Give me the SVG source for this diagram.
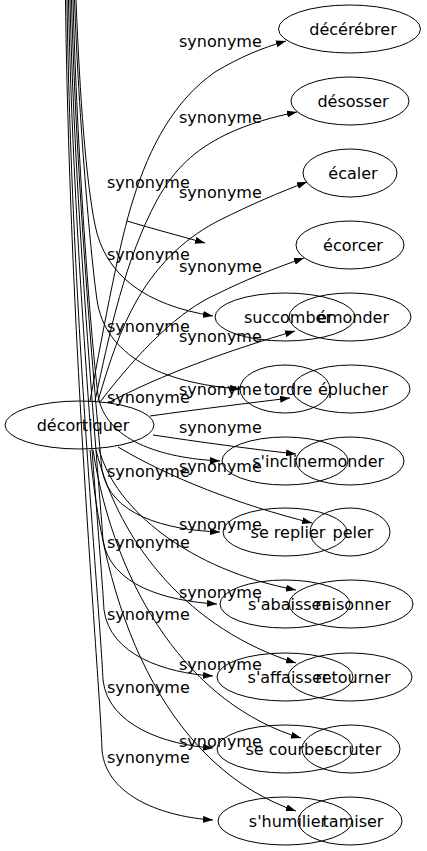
<svg xmlns="http://www.w3.org/2000/svg" width="427" height="851" viewBox="0 0 427 851">
<style>
.n ellipse{fill:none;stroke:#000;stroke-width:1}
text{font-family:"DejaVu Sans",sans-serif;font-size:16px;fill:#000}
.n text{text-anchor:middle}
.e path{fill:none;stroke:#000;stroke-width:1;marker-end:url(#a)}
</style>
<defs>
<marker id="a" markerWidth="10" markerHeight="7" refX="10" refY="3.5" orient="auto" markerUnits="userSpaceOnUse"><path d="M0,0 L10,3.5 L0,7z" fill="#000"/></marker>
</defs>
<rect width="427" height="851" fill="#fff"/>
<g id="edges" class="e">
<path d="M90,401 C105,320 120,240 133,200 C150,145 175,100 215,72 C240,57 262,48 286,41"/>
<path d="M95,401 C110,330 125,260 157,200 C175,168 195,150 225,135 C250,123 273,117 297,112"/>
<path d="M98,401 C110,360 120,330 137,300 C160,260 190,235 220,220 C250,205 280,192 307,182"/>
<path d="M100,402 C140,350 180,310 217,294 C245,280 275,268 304,258"/>
<path d="M108,403 C160,375 230,350 295,331"/>
<path d="M150,416 C200,409 250,403 290,398"/>
<path d="M153,435 C200,442 250,449 296,454"/>
<path d="M118,447 C170,478 240,505 312,523"/>
<path d="M99,449 C115,510 190,570 296,590"/>
<path d="M96,450 C120,545 190,630 296,663"/>
<path d="M93,450 C115,590 190,705 301,738"/>
<path d="M90,450 C105,630 175,770 296,811"/>
<path d="M127,221 C150,228 180,236 205,243"/>
<path d="M76,0 C80,100 86,180 95,225 C105,275 145,305 213,316"/>
<path d="M74.5,0 C79,120 90,250 97,300 C105,355 160,383 240,389"/>
<path d="M73,0 C77,150 90,330 98,395 C105,440 160,458 220,461"/>
<path d="M71.5,0 C76,180 95,400 102,470 C110,515 165,530 220,532"/>
<path d="M70,0 C74,200 98,470 103,540 C110,585 165,601 217,604"/>
<path d="M68.5,0 C73,250 100,540 104,610 C110,655 165,673 213,676"/>
<path d="M67,0 C71,300 100,610 103,680 C108,725 165,745 213,748"/>
<path d="M65.5,0 C70,350 100,680 102,750 C106,797 165,817 213,820"/>
</g>
<g id="labels">
<text x="179" y="47">synonyme</text>
<text x="179" y="123">synonyme</text>
<text x="179" y="198">synonyme</text>
<text x="179" y="272">synonyme</text>
<text x="179" y="342">synonyme</text>
<text x="179" y="395">synonyme</text>
<text x="179" y="433">synonyme</text>
<text x="179" y="472">synonyme</text>
<text x="179" y="530">synonyme</text>
<text x="179" y="598">synonyme</text>
<text x="179" y="670">synonyme</text>
<text x="179" y="747">synonyme</text>
<text x="107" y="188">synonyme</text>
<text x="107" y="260">synonyme</text>
<text x="107" y="332">synonyme</text>
<text x="107" y="403">synonyme</text>
<text x="107" y="477">synonyme</text>
<text x="107" y="548">synonyme</text>
<text x="107" y="620">synonyme</text>
<text x="107" y="693">synonyme</text>
<text x="107" y="763">synonyme</text>
</g>
<g id="decortiquer" class="n"><ellipse cx="79.5" cy="425" rx="74.5" ry="24"/><text x="83" y="431">décortiquer</text></g>
<g id="decerebrer" class="n"><ellipse cx="349.5" cy="29" rx="71" ry="24"/><text x="353" y="35">décérébrer</text></g>
<g id="desosser" class="n"><ellipse cx="350" cy="101" rx="59" ry="24"/><text x="353" y="107">désosser</text></g>
<g id="ecaler" class="n"><ellipse cx="350" cy="173" rx="47" ry="24"/><text x="353" y="179">écaler</text></g>
<g id="ecorcer" class="n"><ellipse cx="350" cy="245" rx="54" ry="24"/><text x="353" y="251">écorcer</text></g>
<g id="emonder" class="n"><ellipse cx="350" cy="317" rx="61" ry="24"/><text x="353" y="323">émonder</text></g>
<g id="eplucher" class="n"><ellipse cx="351" cy="389" rx="59" ry="24"/><text x="353" y="395">éplucher</text></g>
<g id="monder" class="n"><ellipse cx="350" cy="461" rx="54" ry="24"/><text x="353" y="467">monder</text></g>
<g id="peler" class="n"><ellipse cx="350" cy="532" rx="40" ry="24"/><text x="353" y="538">peler</text></g>
<g id="raisonner" class="n"><ellipse cx="351" cy="604" rx="62" ry="24"/><text x="353" y="610">raisonner</text></g>
<g id="retourner" class="n"><ellipse cx="350" cy="677" rx="62" ry="24"/><text x="353" y="683">retourner</text></g>
<g id="scruter" class="n"><ellipse cx="351" cy="749" rx="49" ry="24"/><text x="353" y="755">scruter</text></g>
<g id="tamiser" class="n"><ellipse cx="350" cy="821" rx="52" ry="24"/><text x="353" y="827">tamiser</text></g>
<g id="succomber" class="n"><ellipse cx="285" cy="317" rx="70" ry="24"/><text x="288" y="323">succomber</text></g>
<g id="tordre" class="n"><ellipse cx="285" cy="389" rx="45" ry="24"/><text x="288" y="395">tordre</text></g>
<g id="sincliner" class="n"><ellipse cx="285" cy="461" rx="63" ry="24"/><text x="288" y="467">s'incliner</text></g>
<g id="sereplier" class="n"><ellipse cx="285" cy="532" rx="62" ry="24"/><text x="288" y="538">se replier</text></g>
<g id="sabaisser" class="n"><ellipse cx="285" cy="604" rx="65" ry="24"/><text x="288" y="610">s'abaisser</text></g>
<g id="saffaisser" class="n"><ellipse cx="285" cy="677" rx="68" ry="24"/><text x="288" y="683">s'affaisser</text></g>
<g id="secourber" class="n"><ellipse cx="285" cy="749" rx="68" ry="24"/><text x="288" y="755">se courber</text></g>
<g id="shumilier" class="n"><ellipse cx="285" cy="821" rx="67" ry="24"/><text x="288" y="827">s'humilier</text></g>
</svg>
